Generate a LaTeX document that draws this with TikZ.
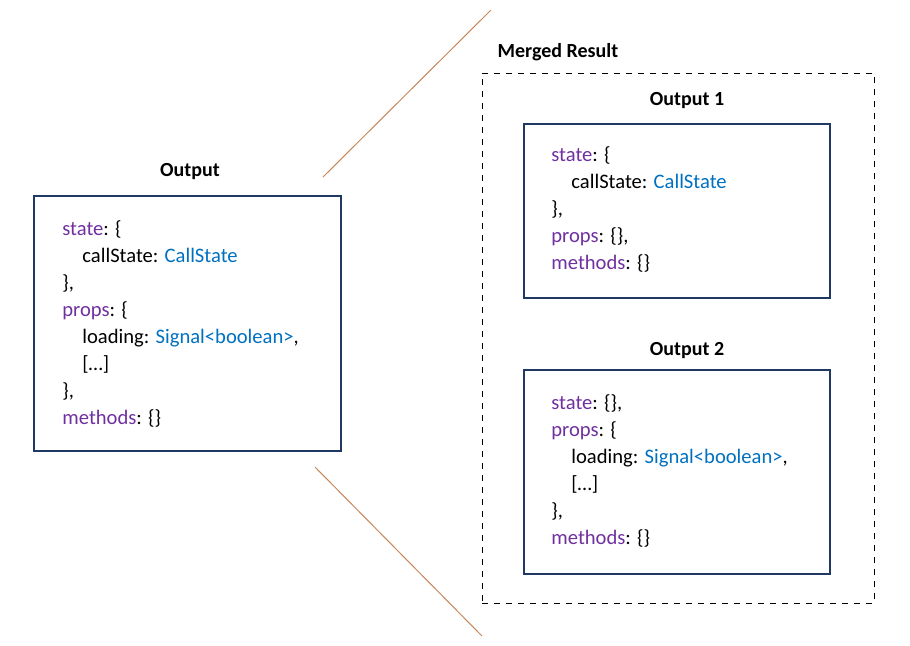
\documentclass[tikz,border=0pt]{standalone}
\usepackage{fontspec}
\setmainfont{Carlito}
\definecolor{keypurple}{HTML}{7030A0}
\definecolor{typeblue}{HTML}{0070C0}
\definecolor{boxnavy}{HTML}{1F3864}
\definecolor{zoomline}{HTML}{C8865A}
\newcommand{\kw}[1]{\textcolor{keypurple}{#1}}
\newcommand{\ty}[1]{\textcolor{typeblue}{#1}}
\begin{document}
\begin{tikzpicture}[x=0.5pt,y=-0.5pt,
    every node/.style={font=\fontsize{10.3}{13.5}\selectfont},
    box/.style={draw=boxnavy,line width=1.1pt,anchor=north west,inner sep=0pt},
    code/.style={anchor=north west,align=left,inner sep=0pt},
    title/.style={font=\fontsize{10}{11}\selectfont\bfseries}]
  \useasboundingbox (0,0) rectangle (910,645);

  \node (outL) [box,minimum width=307pt*0.5,minimum height=255pt*0.5] at (33,195) {};
  \node (tL) [title] at (190,172) {Output};
  \node (cL) [code] at (62,220) {\kw{state}: \{\\
    \hspace{10pt}callState: \ty{CallState}\\
    \},\\
    \kw{props}: \{\\
    \hspace{10pt}loading: \ty{Signal<boolean>},\\
    \hspace{10pt}[\dots]\\
    \},\\
    \kw{methods}: \{\}};

  \node (merged) [draw,dashed,thin,anchor=north west,inner sep=0pt,
    minimum width=392pt*0.5,minimum height=530pt*0.5] at (482,73) {};
  \node (tM) [title] at (558,52) {Merged Result};

  \node (out1) [box,minimum width=306pt*0.5,minimum height=174pt*0.5] at (523,123) {};
  \node (t1) [title] at (687,101) {Output 1};
  \node (c1) [code] at (551,146) {\kw{state}: \{\\
    \hspace{10pt}callState: \ty{CallState}\\
    \},\\
    \kw{props}: \{\},\\
    \kw{methods}: \{\}};

  \node (out2) [box,minimum width=306pt*0.5,minimum height=204pt*0.5] at (523,369) {};
  \node (t2) [title] at (687,350) {Output 2};
  \node (c2) [code] at (551,394) {\kw{state}: \{\},\\
    \kw{props}: \{\\
    \hspace{10pt}loading: \ty{Signal<boolean>},\\
    \hspace{10pt}[\dots]\\
    \},\\
    \kw{methods}: \{\}};

  \coordinate (zA) at (323,177);
  \coordinate (zB) at (491,10);
  \coordinate (zC) at (315,467);
  \coordinate (zD) at (482,636);
  \draw[zoomline,line width=0.5pt] (zA) -- (zB);
  \draw[zoomline,line width=0.5pt] (zC) -- (zD);
\end{tikzpicture}
\end{document}
